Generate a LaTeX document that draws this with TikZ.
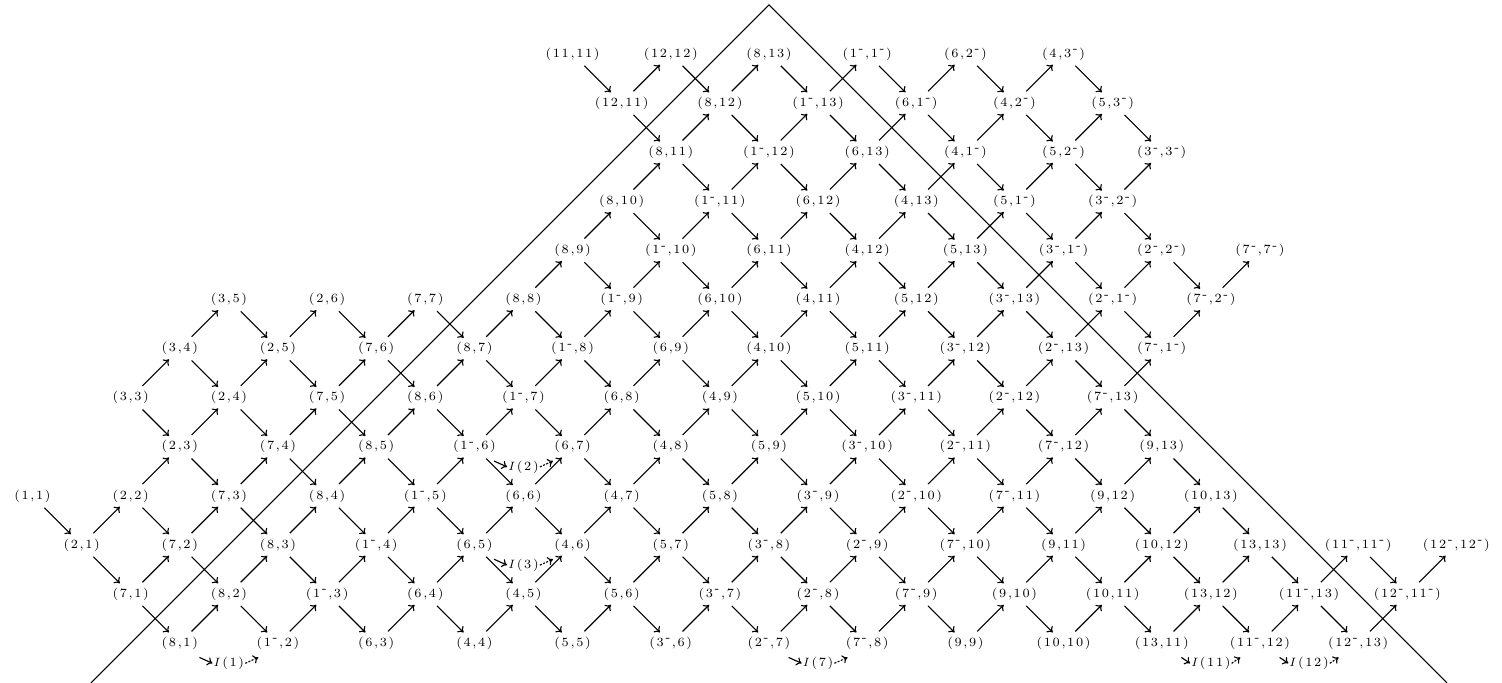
\documentclass[tikz,border=0pt]{standalone}
\usetikzlibrary{arrows.meta}
\makeatletter
\newcommand\lspamt{0.13em}
\newcommand\lsp[1]{\@tfor\lsp@t:=#1\do{\lsp@t\kern\lspamt}\unkern}
\newcommand\lspx[1]{\edef\lsp@s{#1}\expandafter\lsp\expandafter{\lsp@s}}
\makeatother
\protected\def\mns{\raisebox{0.8ex}{-}}
\newcommand\vx[2]{\lspx{(#1,#2)}}
\newcommand\ilab[1]{$I$\kern\lspamt\lspx{(#1)}}
\tikzset{
  lab/.style={font=\fontsize{7.3}{8}\selectfont, inner sep=0.5pt},
  ar/.style={-{To[length=3pt,width=5pt]}, line width=0.65pt, shorten <=0.34cm, shorten >=0.31cm},
  iar/.style={-{To[length=3pt,width=5pt]}, line width=0.65pt},
}
\def\vlist{%
3/0/8/1, 5/0/1\mns/2, 7/0/6/3, 9/0/4/4, 11/0/5/5, 13/0/3\mns/6, 15/0/2\mns/7, 17/0/7\mns/8, 19/0/9/9, 21/0/10/10, 23/0/13/11, 25/0/11\mns/12, 27/0/12\mns/13,
2/1/7/1, 4/1/8/2, 6/1/1\mns/3, 8/1/6/4, 10/1/4/5, 12/1/5/6, 14/1/3\mns/7, 16/1/2\mns/8, 18/1/7\mns/9, 20/1/9/10, 22/1/10/11, 24/1/13/12, 26/1/11\mns/13, 28/1/12\mns/11\mns,
1/2/2/1, 3/2/7/2, 5/2/8/3, 7/2/1\mns/4, 9/2/6/5, 11/2/4/6, 13/2/5/7, 15/2/3\mns/8, 17/2/2\mns/9, 19/2/7\mns/10, 21/2/9/11, 23/2/10/12, 25/2/13/13, 27/2/11\mns/11\mns, 29/2/12\mns/12\mns,
0/3/1/1, 2/3/2/2, 4/3/7/3, 6/3/8/4, 8/3/1\mns/5, 10/3/6/6, 12/3/4/7, 14/3/5/8, 16/3/3\mns/9, 18/3/2\mns/10, 20/3/7\mns/11, 22/3/9/12, 24/3/10/13,
3/4/2/3, 5/4/7/4, 7/4/8/5, 9/4/1\mns/6, 11/4/6/7, 13/4/4/8, 15/4/5/9, 17/4/3\mns/10, 19/4/2\mns/11, 21/4/7\mns/12, 23/4/9/13,
2/5/3/3, 4/5/2/4, 6/5/7/5, 8/5/8/6, 10/5/1\mns/7, 12/5/6/8, 14/5/4/9, 16/5/5/10, 18/5/3\mns/11, 20/5/2\mns/12, 22/5/7\mns/13,
3/6/3/4, 5/6/2/5, 7/6/7/6, 9/6/8/7, 11/6/1\mns/8, 13/6/6/9, 15/6/4/10, 17/6/5/11, 19/6/3\mns/12, 21/6/2\mns/13, 23/6/7\mns/1\mns,
4/7/3/5, 6/7/2/6, 8/7/7/7, 10/7/8/8, 12/7/1\mns/9, 14/7/6/10, 16/7/4/11, 18/7/5/12, 20/7/3\mns/13, 22/7/2\mns/1\mns, 24/7/7\mns/2\mns,
11/8/8/9, 13/8/1\mns/10, 15/8/6/11, 17/8/4/12, 19/8/5/13, 21/8/3\mns/1\mns, 23/8/2\mns/2\mns, 25/8/7\mns/7\mns,
12/9/8/10, 14/9/1\mns/11, 16/9/6/12, 18/9/4/13, 20/9/5/1\mns, 22/9/3\mns/2\mns,
13/10/8/11, 15/10/1\mns/12, 17/10/6/13, 19/10/4/1\mns, 21/10/5/2\mns, 23/10/3\mns/3\mns,
12/11/12/11, 14/11/8/12, 16/11/1\mns/13, 18/11/6/1\mns, 20/11/4/2\mns, 22/11/5/3\mns,
11/12/11/11, 13/12/12/12, 15/12/8/13, 17/12/1\mns/1\mns, 19/12/6/2\mns, 21/12/4/3\mns}
\begin{document}
\begin{tikzpicture}
\useasboundingbox (-0.662,-0.81) rectangle (29.93,13.10);
\foreach \col/\row/\fst/\snd in \vlist
  \node[lab] (n\col-\row) at (\col,\row) {\vx{\fst}{\snd}};
\foreach \col/\row/\fst/\snd in \vlist {
  \pgfmathtruncatemacro\nxc{\col+1}
  \pgfmathtruncatemacro\rup{\row+1}
  \pgfmathtruncatemacro\rdn{\row-1}
  \ifcsname pgf@sh@ns@n\nxc-\rup\endcsname \draw[ar] (n\col-\row.center) -- (n\nxc-\rup.center); \fi
  \ifcsname pgf@sh@ns@n\nxc-\rdn\endcsname \draw[ar] (n\col-\row.center) -- (n\nxc-\rdn.center); \fi
}
\foreach \k/\col/\row/\src/\tgt in {1/4/-0.41/n3-0/n5-0, 2/10/3.59/n9-4/n11-4, 3/10/1.59/n9-2/n11-2,
    7/16/-0.41/n15-0/n17-0, 11/24/-0.41/n23-0/n25-0, 12/26/-0.41/n25-0/n27-0} {
  \node[lab] (I\k) at (\col,\row) {\ilab{\k}};
  \draw[iar] ([shift={(0.4,-0.29)}]\src.center) -- (I\k.west);
  \draw[iar, dash pattern=on 1.2pt off 0.8pt] (I\k.east) -- ([shift={(-0.4,-0.29)}]\tgt.center);
}
\draw[line width=0.65pt] (1.19,-0.81) -- (15,13) -- (28.81,-0.81);
\end{tikzpicture}
\end{document}
